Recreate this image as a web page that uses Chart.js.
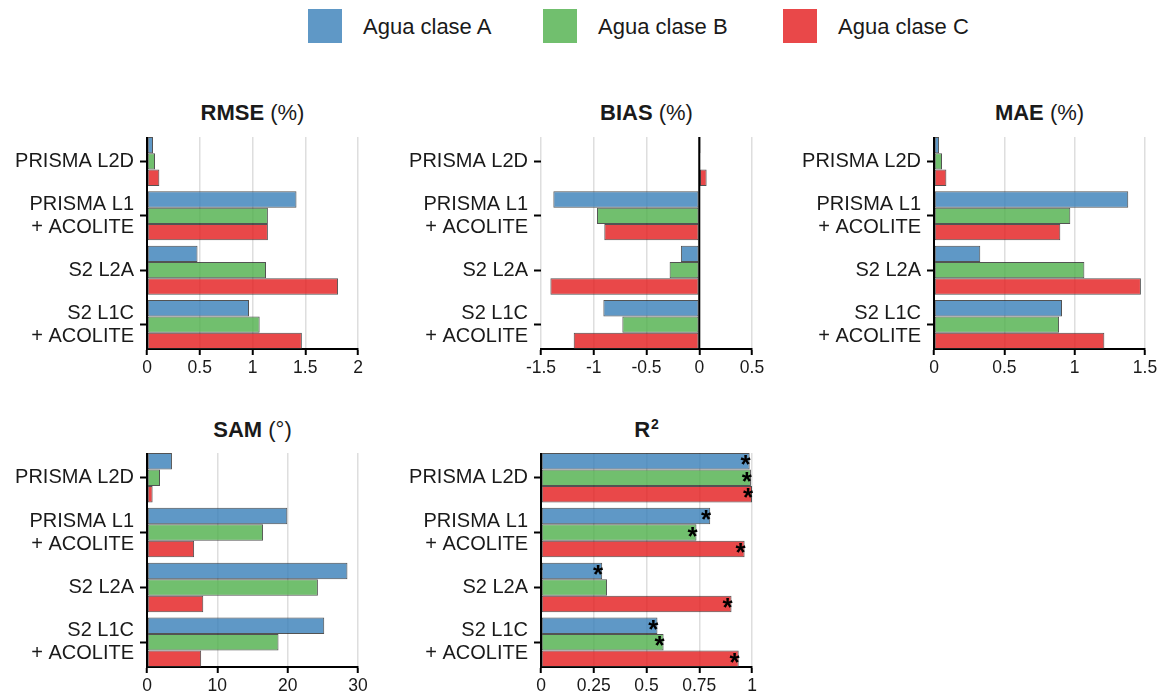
<!DOCTYPE html>
<html lang="es">
<head>
<meta charset="utf-8">
<title>Métricas por clase de agua</title>
<script src="https://cdn.jsdelivr.net/npm/chart.js@4.4.1/dist/chart.umd.min.js"></script>
<style>
  body { margin: 0; background: #fff; font-family: 'Liberation Sans', Arial, sans-serif; color: #1a1a1a; }
  #figura { position: relative; width: 1165px; height: 696px; overflow: hidden; }
  canvas { position: absolute; }
  .titulo { position: absolute; width: 211px; text-align: center; font-size: 22px; line-height: 26px; white-space: nowrap; }
  .titulo sup { font-size: 14px; vertical-align: baseline; position: relative; top: -8px; margin-left: 1px; }
  .caja { position: absolute; top: 9px; width: 34px; height: 34px; }
  .texto { position: absolute; top: 14px; font-size: 22px; line-height: 26px; white-space: nowrap; }
</style>
</head>
<body>
<div id="figura">
  <div id="leyenda"></div>

  <div class="titulo" style="left:147px; top:100px"><b>RMSE</b> (%)</div>
  <div class="titulo" style="left:541px; top:100px"><b>BIAS</b> (%)</div>
  <div class="titulo" style="left:934px; top:100px"><b>MAE</b> (%)</div>
  <div class="titulo" style="left:147px; top:417px"><b>SAM</b> (°)</div>
  <div class="titulo" style="left:541px; top:417px"><b>R<sup>2</sup></b></div>

  <canvas id="rmse" width="376" height="251" style="left:0px; top:127px"></canvas>
  <canvas id="bias" width="376" height="251" style="left:394px; top:127px"></canvas>
  <canvas id="mae" width="376" height="251" style="left:787px; top:127px"></canvas>
  <canvas id="sam" width="376" height="253" style="left:0px; top:443px"></canvas>
  <canvas id="r2" width="376" height="253" style="left:394px; top:443px"></canvas>
</div>

<script>
// Categorías (de arriba hacia abajo) y clases de agua
const categorias = ['PRISMA L2D', ['PRISMA L1', '+ ACOLITE'], 'S2 L2A', ['S2 L1C', '+ ACOLITE']];
const clases = ['Agua clase A', 'Agua clase B', 'Agua clase C'];
const colores = ['rgba(55, 126, 184, 0.8)', 'rgba(77, 175, 74, 0.8)', 'rgba(228, 26, 28, 0.8)'];

// RMSE (%)
const rmseA = [0.057, 1.417, 0.479, 0.967];
const rmseB = [0.076, 1.146, 1.128, 1.068];
const rmseC = [0.117, 1.146, 1.811, 1.468];

// BIAS (%)
const biasA = [0.012, -1.383, -0.174, -0.909];
const biasB = [0.008, -0.969, -0.281, -0.729];
const biasC = [0.07, -0.90, -1.411, -1.19];

// MAE (%)
const maeA = [0.036, 1.381, 0.329, 0.91];
const maeB = [0.057, 0.969, 1.069, 0.889];
const maeC = [0.088, 0.898, 1.471, 1.211];

// SAM (°)
const samA = [3.55, 19.95, 28.5, 25.2];
const samB = [1.85, 16.5, 24.3, 18.7];
const samC = [0.8, 6.7, 8.0, 7.7];

// R2 y significancia (asterisco)
const r2A = [0.989, 0.802, 0.29, 0.552];
const r2B = [0.995, 0.737, 0.313, 0.581];
const r2C = [1.0, 0.965, 0.903, 0.937];
const sigA = [true, true, true, true];
const sigB = [true, true, false, true];
const sigC = [true, true, true, true];

// Marcas del eje x de cada panel
const ticksRmse = [0, 0.5, 1, 1.5, 2];
const ticksBias = [-1.5, -1, -0.5, 0, 0.5];
const ticksMae = [0, 0.5, 1, 1.5];
const ticksSam = [0, 10, 20, 30];
const ticksR2 = [0, 0.25, 0.5, 0.75, 1];

Chart.defaults.font.family = "'Liberation Sans', Arial, sans-serif";
Chart.defaults.color = '#1a1a1a';

// Línea negra en x = 0
const lineaCero = {
  id: 'lineaCero',
  afterDatasetsDraw(chart) {
    const { ctx, chartArea, scales } = chart;
    const x0 = scales.x.getPixelForValue(0);
    ctx.save();
    ctx.strokeStyle = '#000';
    ctx.lineWidth = 2;
    ctx.beginPath();
    ctx.moveTo(x0, chartArea.top);
    ctx.lineTo(x0, chartArea.bottom);
    ctx.stroke();
    ctx.restore();
  },
};

// Asteriscos al final de las barras significativas
const estrellas = {
  id: 'estrellas',
  afterDatasetsDraw(chart, args, opts) {
    if (!opts || !opts.flags) return;
    const ctx = chart.ctx;
    ctx.save();
    ctx.font = "bold 26px 'Liberation Sans', Arial, sans-serif";
    ctx.fillStyle = '#000';
    ctx.textAlign = 'right';
    ctx.textBaseline = 'alphabetic';
    opts.flags.forEach((fila, k) => {
      chart.getDatasetMeta(k).data.forEach((barra, i) => {
        if (fila[i]) ctx.fillText('*', barra.x + 1, barra.y + 12);
      });
    });
    ctx.restore();
  },
};

function crearPanel(canvasId, series, ticksX, sig) {
  const ctx = document.getElementById(canvasId).getContext('2d');
  const n = categorias.length;

  new Chart(ctx, {
    type: 'bar',
    data: {
      datasets: series.map((valores, k) => ({
        label: clases[k],
        data: valores.map((v, i) => ({ x: v, y: n - i })), // primera categoría arriba
        backgroundColor: colores[k],
        borderColor: 'rgba(40, 40, 40, 0.8)',
        borderWidth: 1,
        borderSkipped: false,
        categoryPercentage: 0.9,
        barPercentage: 1.0,
      })),
    },
    options: {
      indexAxis: 'y',
      responsive: false,
      animation: false,
      layout: { padding: { top: 10, right: 18, bottom: 0, left: 0 } },
      plugins: {
        legend: { display: false },
        tooltip: { enabled: false },
        estrellas: sig ? { flags: sig } : false,
      },
      scales: {
        x: {
          type: 'linear',
          min: ticksX[0],
          max: ticksX[ticksX.length - 1],
          afterBuildTicks: s => { s.ticks = ticksX.map(v => ({ value: v })); },
          afterFit: s => { s.height = 29; s.paddingLeft = 0; s.paddingRight = 0; },
          grid: { color: '#dedede', lineWidth: 1.5, tickColor: '#000', tickWidth: 2, tickLength: 6 },
          border: { display: true, color: '#000', width: 2 },
          ticks: {
            font: { size: 17.5 },
            color: '#1a1a1a',
            padding: 3,
            maxRotation: 0,
            callback: v => String(Number(v.toFixed(2))),
          },
        },
        y: {
          type: 'linear',
          offset: false,
          min: 0.55,
          max: n + 0.45,
          afterBuildTicks: s => { s.ticks = categorias.map((c, i) => ({ value: i + 1 })); },
          afterFit: s => { s.width = 147; s.paddingTop = 0; s.paddingBottom = 0; },
          grid: { offset: false, drawOnChartArea: false, tickColor: '#000', tickWidth: 2, tickLength: 7 },
          border: { display: false },
          ticks: {
            font: { size: 20, lineHeight: 1.15 },
            color: '#1a1a1a',
            padding: 6,
            callback: v => categorias[n - v],
          },
        },
      },
    },
    plugins: [lineaCero, estrellas],
  });
}

// Leyenda común arriba
const leyendaX = [308, 543, 783];
const leyenda = document.getElementById('leyenda');
clases.forEach((nombre, k) => {
  const caja = document.createElement('div');
  caja.className = 'caja';
  caja.style.left = leyendaX[k] + 'px';
  caja.style.background = colores[k];
  const texto = document.createElement('div');
  texto.className = 'texto';
  texto.style.left = (leyendaX[k] + 55) + 'px';
  texto.textContent = nombre;
  leyenda.appendChild(caja);
  leyenda.appendChild(texto);
});

crearPanel('rmse', [rmseA, rmseB, rmseC], ticksRmse);
crearPanel('bias', [biasA, biasB, biasC], ticksBias);
crearPanel('mae', [maeA, maeB, maeC], ticksMae);
crearPanel('sam', [samA, samB, samC], ticksSam);
crearPanel('r2', [r2A, r2B, r2C], ticksR2, [sigA, sigB, sigC]);
</script>
</body>
</html>
